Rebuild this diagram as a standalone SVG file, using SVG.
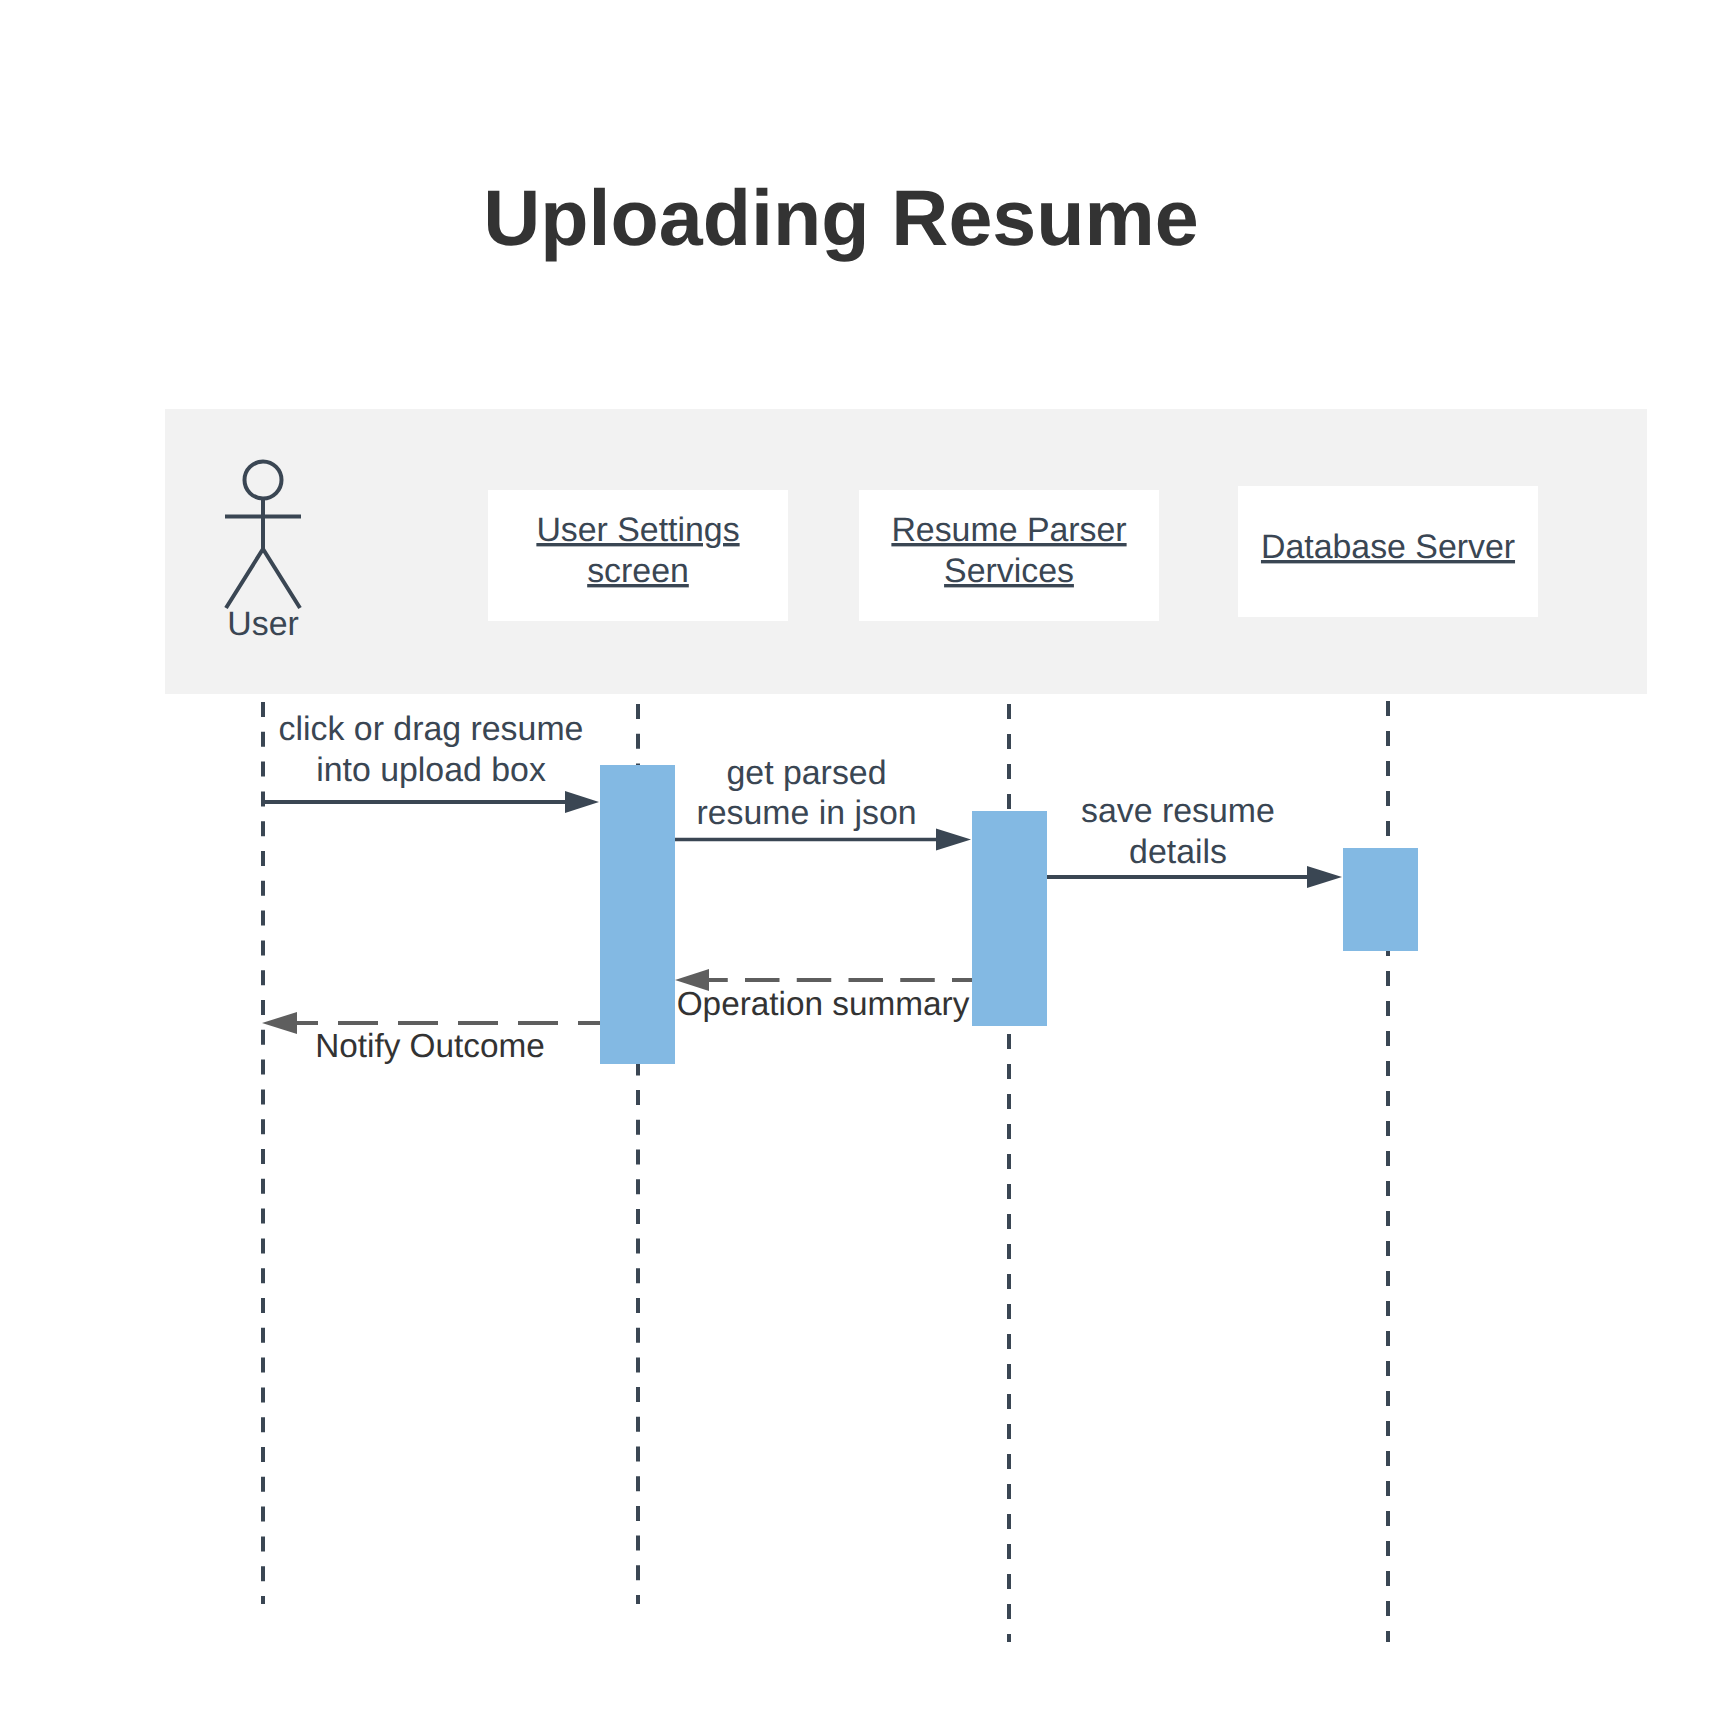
<svg xmlns="http://www.w3.org/2000/svg" width="1721" height="1718" viewBox="0 0 1721 1718">
<style>
text{font-family:"Liberation Sans",Arial,sans-serif;font-size:33.87px;text-anchor:middle;fill:#3a4653;text-rendering:geometricPrecision}
.title{font-size:79px;font-weight:bold;fill:#333}
.dark{fill:#333;font-size:33.33px}
.u{text-decoration:underline}
.box{fill:#fff}
.bar{fill:#83b9e3}
.life{stroke:#3a4653;stroke-width:4;fill:none;stroke-dasharray:15 15}
.msg{stroke:#3a4653;stroke-width:4;fill:none}
.ret{stroke:#5e5e5e;stroke-width:4;fill:none}
.head{fill:#3a4653}
.rhead{fill:#5e5e5e}
.actor{stroke:#3a4653;stroke-width:4;fill:none}
</style>
<rect width="1721" height="1718" fill="#fff"/>
<text id="title" class="title" x="841" y="245">Uploading Resume</text>
<rect id="band" x="165" y="409" width="1482" height="285" fill="#f2f2f2"/>
<g id="lifelines">
<path class="life" style="stroke-dasharray:15 14.8" d="M263 702V1604"/>
<path class="life" style="stroke-dasharray:15 14.7" d="M638 704V1604"/>
<path class="life" d="M1009 704V1642"/>
<path class="life" d="M1388 701V1642"/>
</g>
<g id="actor-user">
<circle class="actor" cx="263" cy="480" r="18.5"/>
<path class="actor" d="M263 499V549M225 516.5H301M226 608L263 549L300 608"/>
<text x="263" y="635">User</text>
</g>
<g id="node-user-settings">
<rect class="box" x="488" y="490" width="300" height="131"/>
<text class="u" x="638" y="541">User Settings</text>
<text class="u" x="638" y="582">screen</text>
</g>
<g id="node-resume-parser">
<rect class="box" x="859" y="490" width="300" height="131"/>
<text class="u" x="1009" y="541">Resume Parser</text>
<text class="u" x="1009" y="582">Services</text>
</g>
<g id="node-database-server">
<rect class="box" x="1238" y="486" width="300" height="131"/>
<text class="u" x="1388" y="558">Database Server</text>
</g>
<g id="activations">
<rect id="act-settings" class="bar" x="600" y="765" width="75" height="299"/>
<rect id="act-parser" class="bar" x="972" y="811" width="75" height="215"/>
<rect id="act-db" class="bar" x="1343" y="848" width="75" height="103"/>
</g>
<g id="connectors">
<path class="msg" d="M263 802H566"/><path class="head" d="M599 802L565 791V813Z"/>
<path class="msg" style="stroke-width:3.5" d="M675 839.5H937"/><path class="head" d="M971 839.5L936 828.5V850.5Z"/>
<path class="msg" d="M1047 877H1308"/><path class="head" d="M1342 877L1307 866V888Z"/>
<path class="ret" style="stroke-dasharray:34.5 17.25;stroke-dashoffset:14.5" d="M972 980H709"/><path class="rhead" d="M675 980L709 969V991Z"/>
<path class="ret" style="stroke-dasharray:40 20;stroke-dashoffset:18" d="M600 1023H297"/><path class="rhead" d="M262 1023L297 1012V1034Z"/>
</g>
<g id="labels">
<text x="431" y="740">click or drag resume</text>
<text x="431" y="781">into upload box</text>
<text x="806.500" y="784">get parsed</text>
<text x="806.500" y="824">resume in json</text>
<text x="1178" y="822">save resume</text>
<text x="1178" y="863">details</text>
<text class="dark" x="823" y="1015">Operation summary</text>
<text class="dark" x="430" y="1057">Notify Outcome</text>
</g>
</svg>
